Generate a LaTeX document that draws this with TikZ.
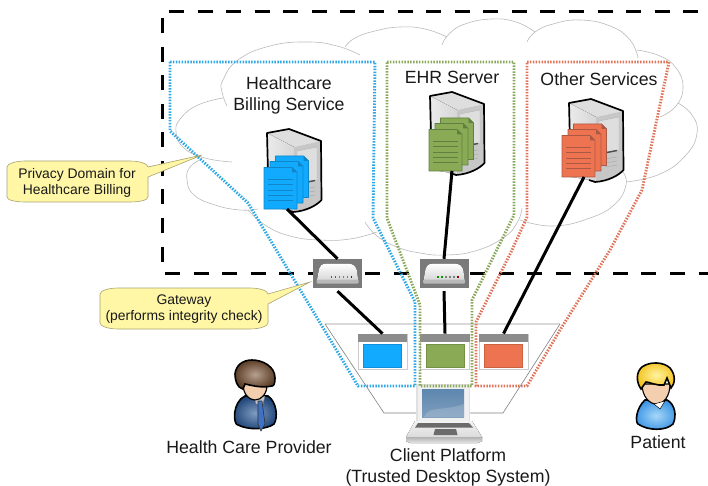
\documentclass[tikz,border=0pt]{standalone}
\usepackage{fontspec}
\setmainfont{Liberation Sans}
\definecolor{cblue}{HTML}{12AAFF}
\definecolor{cgreen}{HTML}{8BAA55}
\definecolor{corange}{HTML}{EE7350}
\definecolor{dblue}{HTML}{0E86C8}
\definecolor{dgreen}{HTML}{5F8040}
\definecolor{dorange}{HTML}{A85A45}
\definecolor{lblue}{HTML}{2FA8E6}
\definecolor{lgreen}{HTML}{8AA85A}
\definecolor{lorange}{HTML}{E0745A}
\definecolor{calloutfill}{HTML}{FFF7A6}
\definecolor{calloutline}{HTML}{A8A270}
\definecolor{hairD}{HTML}{5E3F28}
\definecolor{hairL}{HTML}{B5A08E}
\definecolor{suitD}{HTML}{1F4478}
\definecolor{suitL}{HTML}{7F9CC0}
\definecolor{tieC}{HTML}{3F72C4}
\definecolor{skinC}{HTML}{F3CFB0}
\definecolor{shirtB}{HTML}{3E95E4}
\definecolor{shirtL}{HTML}{A6D8F8}
\definecolor{blondD}{HTML}{F3C21C}
\definecolor{blondL}{HTML}{FFF3A0}
\definecolor{screenT}{HTML}{5D87AE}
\definecolor{screenB}{HTML}{7F9EBD}
\tikzset{
  cloudline/.style={draw=black!27,line width=0.6pt},
  bigdash/.style={draw=black,line width=3pt,dash pattern=on 15pt off 13.57pt},
  domainline/.style={line width=2.9pt,dash pattern=on 1.5pt off 1.4pt,line join=miter},
  link/.style={draw=black,line width=3pt},
  labeltext/.style={font=\fontsize{17.7}{21}\selectfont,align=center,text=black!90,inner sep=0pt},
  callouttext/.style={font=\fontsize{13.9}{16}\selectfont,align=center,text=black!90,inner sep=0pt},
  calloutbody/.style={fill=calloutfill,draw=calloutline,line width=0.6pt},
  gwbox/.style={draw=none,fill=black!52,minimum width=49pt,minimum height=29pt,inner sep=0pt},
  winbox/.style={draw=black!20,line width=0.8pt,fill=white,minimum width=49pt,minimum height=35pt,inner sep=0pt}
}
\newcommand{\serverico}[2]{%
  \begin{scope}[shift={(#1,#2)}]
    \fill[black!13] (0,0) -- (22,-4) -- (54,8) -- (27,14) -- cycle;
    \fill[left color=black!8,right color=black!16] (0,0) -- (27,14) -- (27,78) -- (3,74) -- cycle;
    \fill[black!22] (27,14) -- (54,8) -- (54.5,67) -- (44,75) -- (27,78) -- cycle;
    \fill[black!13,draw=black!28,line width=0.4pt] (30,18) -- (50,14) -- (50,47) -- (30,50) -- cycle;
    \draw[black!70,line width=1.4pt] (38,49.5) -- (48,47.5);
    \foreach \k in {0,1,2}{\draw[black!32,line width=0.5pt] (36,{56+4*\k}) -- (48,{54+4*\k});}
    \draw[black,line width=1.7pt,line join=round] (3,74) -- (1,40) -- (0,0) -- (22,-4) -- (54,8) -- (54.5,67) .. controls (50,72) and (40,78) .. (26,79) -- (20,77);
  \end{scope}}
\newcommand{\onedoc}[4]{%
  \begin{scope}[shift={(#1,#2)}]
    \fill[#3,draw=#4,line width=0.7pt,line join=round] (0,0) -- (28,0) -- (33,5) -- (33,41.5) -- (0,41.5) -- cycle;
    \fill[#4] (28,0) -- (33,5) -- (28,5) -- cycle;
  \end{scope}}
\newcommand{\docstack}[4]{%
  \onedoc{#1+11.5}{#2-11.5}{#3}{#4}\onedoc{#1+6}{#2-6}{#3}{#4}\onedoc{#1}{#2}{#3}{#4}%
  \begin{scope}[shift={(#1,#2)}]
    \foreach \k in {0,1,2,3,4}{\draw[#4,line width=0.6pt] (4,{12+5.2*\k}) -- (29,{12+5.2*\k});}
  \end{scope}}
\begin{document}
\begin{tikzpicture}[x=1pt,y=-1pt]
\useasboundingbox (0,0) rectangle (708,486);
% cloud
\draw[cloudline] plot[smooth,tension=0.8] coordinates {(360,55) (337,46) (307,42) (270,46) (238,60) (223,80) (222,92) (227,106)};
\draw[cloudline] plot[smooth,tension=0.8] coordinates {(223,98) (198,105) (181,118) (176,132) (184,148) (205,158) (232,162)};
\draw[cloudline] plot[smooth,tension=0.8] coordinates {(202,159) (190,167) (187,180) (194,195) (215,205) (240,210) (258,209)};
\draw[cloudline] plot[smooth,tension=0.8] coordinates {(248,210) (265,225) (290,236) (320,240) (350,239) (377,232)};
\draw[cloudline] plot[smooth,tension=0.8] coordinates {(365,222) (377,236) (397,247) (420,253) (445,255) (475,251) (503,238) (517,223) (522,208)};
\draw[cloudline] plot[smooth,tension=0.8] coordinates {(520,220) (553,226) (590,218) (615,204) (626,185) (623,172)};
\draw[cloudline] plot[smooth,tension=0.8] coordinates {(626,182) (660,174) (686,155) (697,133) (692,115) (678,103)};
\draw[cloudline] plot[smooth,tension=0.8] coordinates {(660,117) (676,106) (683,87) (676,68) (660,56) (637,50)};
\draw[cloudline] plot[smooth,tension=0.8] coordinates {(638,58) (630,40) (610,26) (580,20) (553,24) (535,32) (527,42)};
\draw[cloudline] plot[smooth,tension=0.8] coordinates {(535,32) (516,22) (492,19) (465,24) (449,34) (442,45)};
\draw[cloudline] plot[smooth,tension=0.8] coordinates {(447,37) (425,29) (400,27) (375,31) (355,38) (345,47)};
% big dashed boundary
\coordinate (tl) at (169,11.5); \coordinate (tr) at (708,11.5);
\coordinate (lt) at (162,18); \coordinate (lb) at (162,272);
\coordinate (bl) at (165,273); \coordinate (bm) at (422,273);
\coordinate (bn) at (470,273); \coordinate (br) at (708,273);
\draw[bigdash] (tl) -- (tr);
\draw[bigdash] (lt) -- (lb);
\draw[bigdash] (bl) -- (bm);
\draw[bigdash] (bn) -- (br);
% platform
\coordinate (pa) at (325,324); \coordinate (pb) at (560,324);
\coordinate (pc) at (503,413); \coordinate (pd) at (384,413);
\draw[black!15,line width=1.2pt] (pa) -- (pb);
\draw[black!50,line width=0.6pt] (pa) -- (pd) -- (pc) -- (pb);
% servers
\serverico{267}{133}
\serverico{430}{96}
\serverico{569}{103}
\docstack{264}{167.5}{cblue}{dblue}
\docstack{429}{129.5}{cgreen}{dgreen}
\docstack{562}{135.5}{corange}{dorange}
\coordinate (srvA) at (287,209);
\coordinate (srvB) at (452,171);
\coordinate (srvC) at (584,177);
% gateways
\node[gwbox] (gwA) at (337.5,273.5) {};
\node[gwbox] (gwB) at (444,273.5) {};
\foreach \g in {gwA,gwB}{
  \begin{scope}[shift={(\g)},x=1pt,y=-1pt]
    \fill[top color=white,bottom color=black!18,rounded corners=3pt] (-18,-7) -- (-14,-10) -- (14,-10) -- (19,-6) -- (21,9) -- (-21,9) -- cycle;
    \fill[black!28,rounded corners=1pt] (-21,6) rectangle (21,10);
    \foreach \k/\c in {-7/green!60!black,-3/green!60!black,1/black!50,5/black!50,9/black!50,13/red!60!black}{\fill[\c] (\k,2.5) rectangle ++(1.6,2);}
  \end{scope}}
% windows
\foreach \n/\cx/\cc in {winA/382.5/cblue,winB/445/cgreen,winC/503.5/corange}{
  \node[winbox] (\n) at (\cx,351.5) {};
  \fill[black!45] (\n.north west) rectangle ([yshift=-8pt]\n.north east);
  \fill[\cc,draw=\cc!85!black,line width=0.5pt] ([xshift=6pt,yshift=-10.5pt]\n.north west) rectangle ([xshift=-6pt,yshift=2pt]\n.south east);
}
% links
\draw[link] (srvA) -- (gwA.north);
\draw[link] ([yshift=-3pt]gwA.south) -- (winA.north);
\draw[link] (srvB) -- (gwB.north);
\draw[link] ([yshift=-3pt]gwB.south) -- (winB.north);
\draw[link] (srvC) -- (winC.north);
% laptop
\fill[black!12] (416,384) rectangle (470,421);
\fill[black!6] (418,385) rectangle (469,421);
\fill[top color=screenT,bottom color=screenB] (422,389) rectangle (464,417);
\fill[white,opacity=0.16] (424,417) .. controls (430,405) and (440,412) .. (464,404) -- (464,417) -- cycle;
\fill[bottom color=black!14,top color=black!5] (415,421) -- (472,421) -- (482,437) -- (406,437) -- cycle;
\fill[black!58] (418,423) -- (469,423) -- (473,427.5) -- (415,427.5) -- cycle;
\fill[black!58] (435,429) -- (456,429) -- (457.5,435) -- (433.5,435) -- cycle;
\fill[top color=black!30,bottom color=black!10] (406,437) -- (482,437) -- (482,441) -- (478,443) -- (410,443) -- (406,441) -- cycle;
% domains
\draw[domainline,lorange] (527,62) -- (669,62) -- (642,190) -- (610,250) -- (560,330) -- (527,386) -- (476,386) -- (476,322) -- (512,250) -- (527,217) -- cycle;
\draw[domainline,lgreen] (387,62) -- (514,62) -- (514,215) -- (472,300) -- (472,386) -- (420,386) -- (420,305) -- (387,218) -- cycle;
\draw[domainline,lblue] (170,62) -- (375,62) -- (373,218) -- (415,302) -- (415,386) -- (358,386) -- (248,203) -- (170,131) -- cycle;
% callouts
\path[calloutbody] (25,161) -- (130,161) .. controls (140,161) and (148,164) .. (148,167) -- (202,155) -- (148,177) -- (148,197) .. controls (148,200) and (140,202) .. (130,202) -- (25,202) .. controls (15,202) and (7,200) .. (7,197) -- (7,167) .. controls (7,164) and (15,161) .. (25,161) -- cycle;
\path[calloutbody] (118,288) -- (250,288) .. controls (260,288) and (268,291) .. (268,294) -- (310,282) -- (268,304) -- (268,323) .. controls (268,326) and (260,329) .. (250,329) -- (118,329) .. controls (108,329) and (100,326) .. (100,323) -- (100,294) .. controls (100,291) and (108,288) .. (118,288) -- cycle;
\node[callouttext] (privacy) at (77,183) {Privacy Domain for\\Healthcare Billing};
\node[callouttext] (gatewaytext) at (184,309.5) {Gateway\\(performs integrity check)};
% provider
\fill[inner color=suitL,outer color=suitD,draw=black,line width=1.6pt] (245,396) .. controls (232,402) and (233,425) .. (238,425) .. controls (248,430) and (266,430) .. (274,424) .. controls (278,418) and (277,402) .. (268,396) -- cycle;
\fill[black!22,draw=black!55,line width=0.4pt] (254,398) -- (265,396) -- (263,404) -- (256,404) -- cycle;
\fill[tieC,draw=black!80,line width=0.6pt] (258,401) -- (262,401) -- (265,424) -- (261,431) -- (258,424) -- cycle;
\fill[skinC,draw=black,line width=1.2pt] (243,384) .. controls (243,395) and (250,400) .. (255,400) .. controls (262,400) and (267,393) .. (267,385) -- cycle;
\fill[inner color=hairL,outer color=hairD,draw=black,line width=1.6pt] (243,389) .. controls (237,388) and (235,380) .. (235,374) .. controls (236,365) and (243,360) .. (252,360) .. controls (262,360) and (275,366) .. (275,378) .. controls (275,383) and (274,386) .. (272,386) .. controls (262,388) and (254,386) .. (245,384) -- cycle;
% patient
\fill[inner color=shirtL,outer color=shirtB,draw=black,line width=1.6pt] (645,400) .. controls (636,408) and (635,422) .. (638,424) .. controls (648,431) and (666,431) .. (673,424) .. controls (677,416) and (675,404) .. (667,400) -- cycle;
\fill[skinC,draw=black,line width=1.1pt] (642,384) .. controls (642,397) and (650,404) .. (656,404) .. controls (664,404) and (670,396) .. (670,384) -- cycle;
\fill[white,draw=black,line width=0.5pt] (654,404) -- (660,409) -- (665,401) -- cycle;
\fill[inner color=blondL,outer color=blondD,draw=black,line width=1.6pt] (641,389) .. controls (636,382) and (636,372) .. (642,367) .. controls (650,361) and (664,362) .. (670,368) .. controls (676,375) and (675,384) .. (671,388) -- (667,378) -- (664,385) .. controls (657,386) and (649,382) .. (646,382) -- cycle;
% labels
\node[labeltext] (billing) at (289,95.5) {Healthcare\\Billing Service};
\node[labeltext] (ehr) at (452,77) {EHR Server};
\node[labeltext] (other) at (599,79) {Other Services};
\node[labeltext] (provider) at (249,447.5) {Health Care Provider};
\node[labeltext] (client) at (448,467) {Client Platform\\(Trusted Desktop System)};
\node[labeltext] (patient) at (658,442.5) {Patient};
\end{tikzpicture}
\end{document}
